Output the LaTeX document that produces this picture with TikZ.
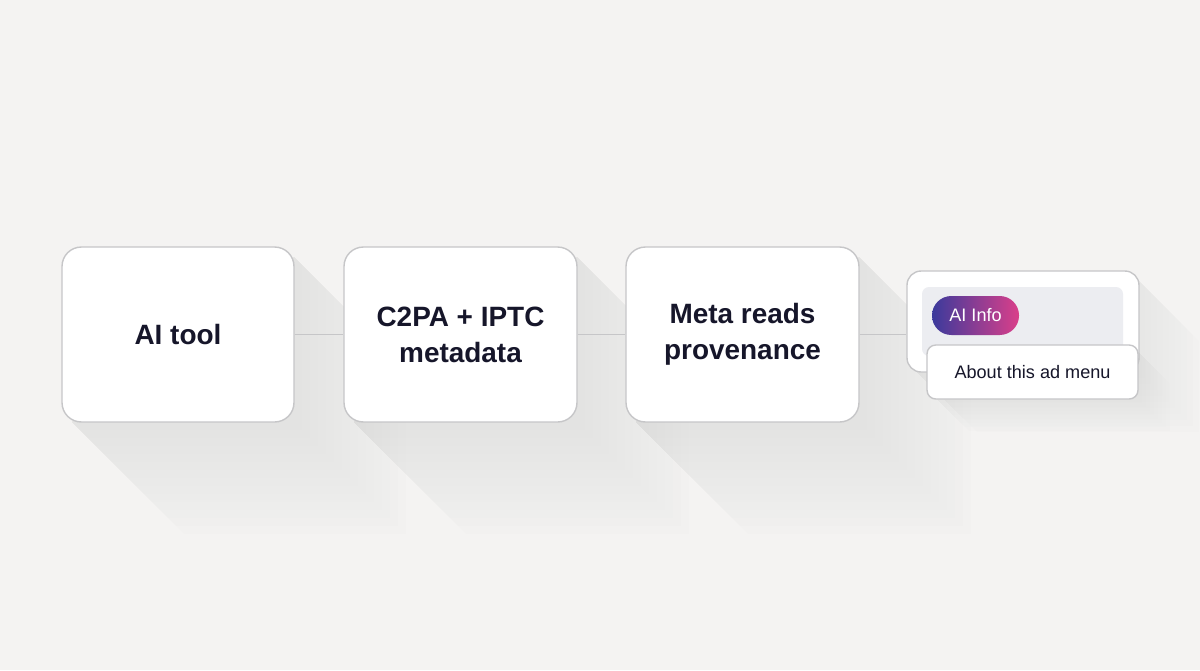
\documentclass[tikz,border=0pt]{standalone}
\usepackage{fontspec}
\setmainfont{Liberation Sans}
\usetikzlibrary{positioning}
\definecolor{bg}{HTML}{F4F3F2}
\definecolor{edge}{HTML}{C6C6C8}
\definecolor{ink}{HTML}{16162A}
\definecolor{panel}{HTML}{ECEDF1}
\definecolor{pillL}{HTML}{3B3A9C}
\definecolor{pillR}{HTML}{DA3F8A}
\definecolor{shade}{HTML}{707070}
\tikzset{
  card/.style={draw=edge, line width=0.8pt, fill=white, rounded corners=11pt,
    align=center, text=ink, font=\fontsize{15.9}{20.6}\selectfont\bfseries, inner sep=0pt},
  menubox/.style={draw=edge, line width=0.8pt, fill=white, rounded corners=5pt,
    text=ink, font=\fontsize{10.3}{12}\selectfont, inner sep=0pt},
  link/.style={draw=edge, line width=0.8pt},
  shadowL/.style={fill=shade, opacity=0.0065}
}
\begin{document}
\begin{tikzpicture}[x=0.02cm,y=-0.02cm]
\fill[bg] (0,0) rectangle (1200,670);
\useasboundingbox (0,0) rectangle (1200,670);
% long soft shadows
\foreach \l/\r/\t/\b in {62/294/247/422, 344/577/247/422, 626/859/247/422}{
  \foreach \d in {8,16,...,112}{
    \fill[shadowL] (\r,\t+10) -- (\r+\d,\t+10+\d) -- (\r+\d,\b+\d) -- (\l+10+\d,\b+\d) -- (\l+10,\b) -- cycle;
  }
}
\foreach \d in {6,12,...,60}{
  \fill[shadowL] (1139,281) -- (1139+\d,281+\d) -- (1139+\d,372+\d) -- (917+\d,372+\d) -- (917,372) -- cycle;
}
% cards
\node[card, minimum width=4.64cm, minimum height=3.5cm] (tool) at (178,334.5) {AI tool};
\node[card, minimum width=4.66cm, minimum height=3.5cm] (meta) at (460.5,334.5) {C2PA + IPTC\\metadata};
\node[card, minimum width=4.66cm, minimum height=3.5cm] (reads) at (742.5,334.5) {Meta reads\\provenance};
\node[card, minimum width=4.64cm, minimum height=2.02cm, rounded corners=8pt] (ui) at (1023,321.5) {};
\fill[panel, rounded corners=4pt] (922,287) rectangle (1123,356);
% connectors
\draw[link] (tool.east) -- (meta.west);
\draw[link] (meta.east) -- (reads.west);
\draw[link] (reads.east) -- (reads.east -| ui.west);
% pill
\shade[left color=pillL, right color=pillR, rounded corners=11pt] (932,296) rectangle (1019,335);
\node[text=white, font=\fontsize{10.3}{12}\selectfont, anchor=center] (pill) at (975.5,315.5) {AI Info};
% menu shadow
\foreach \d in {4,8,...,32}{
  \fill[shadowL] (1138,352) -- (1138+\d,352+\d) -- (1138+\d,399+\d) -- (937+\d,399+\d) -- (937,399) -- cycle;
}
\node[menubox, minimum width=4.22cm, minimum height=1.08cm] (menu) at (1032.5,372) {About this ad menu};
\end{tikzpicture}
\end{document}
